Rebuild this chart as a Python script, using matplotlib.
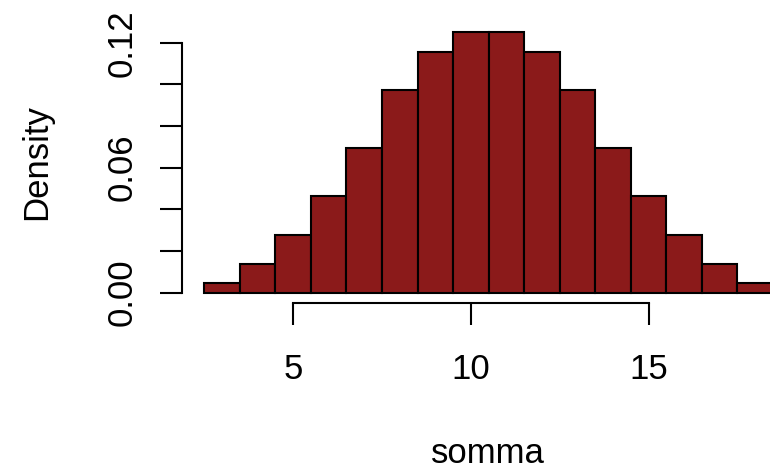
import matplotlib
matplotlib.use("Agg")
import matplotlib.pyplot as plt
from matplotlib.transforms import blended_transform_factory

# Sum of three dice: bin centres and density of each bin
somma = [3, 4, 5, 6, 7, 8, 9, 10, 11, 12, 13, 14, 15, 16, 17, 18]
density = [0.0046, 0.0139, 0.0278, 0.0463, 0.0694, 0.0972, 0.1157, 0.1250,
           0.1250, 0.1157, 0.0972, 0.0694, 0.0463, 0.0278, 0.0139, 0.0046]
x_ticks = [5, 10, 15]
y_ticks = [0.00, 0.02, 0.04, 0.06, 0.08, 0.10, 0.12]
y_labelled = [0.00, 0.06, 0.12]

plt.rcParams["font.family"] = ["Liberation Sans", "DejaVu Sans"]
FS = 25

W, H = 770, 471
fig = plt.figure(figsize=(W / 100, H / 100), dpi=100)
# plot region in pixels (left, top, right, bottom)
l, t, r, b = 181.5, 21.9, 795.7, 303.0
ax = fig.add_axes([l / W, 1 - b / H, (r - l) / W, (b - t) / H])

ax.bar(somma, density, width=1.0, color="#8B1A1A", edgecolor="black",
       linewidth=1.5, align="center")

ax.set_xlim(1.86, 19.14)
ax.set_ylim(-0.005, 0.13)

for s in ("top", "right"):
    ax.spines[s].set_visible(False)
ax.spines["left"].set_bounds(0, 0.12)
ax.spines["bottom"].set_bounds(5, 15)
for s in ("left", "bottom"):
    ax.spines[s].set_linewidth(1.5)

ax.set_xticks(x_ticks)
ax.set_yticks(y_ticks)
ax.set_xticklabels([])
ax.set_yticklabels([])
ax.tick_params(axis="both", length=15.5, width=1.5)

# tick labels placed at fixed pixel offsets from the axis lines
tx = blended_transform_factory(ax.transData, fig.transFigure)
ty = blended_transform_factory(fig.transFigure, ax.transData)
for v in x_ticks:
    ax.text(v, 1 - 379 / H, f"{v}", transform=tx, fontsize=FS,
            ha="center", va="baseline")
for v in y_labelled:
    ax.text(131.5 / W, v, f"{v:.2f}", transform=ty, fontsize=FS,
            ha="center", va="baseline", rotation=90, rotation_mode="anchor")

fig.text(488 / W, 1 - 463 / H, "somma", fontsize=FS, ha="center", va="baseline")
fig.text(46.5 / W, 1 - 162.5 / H, "Density", fontsize=FS, ha="center",
         va="baseline", rotation=90, rotation_mode="anchor")

fig.savefig("out.png", dpi=100)
